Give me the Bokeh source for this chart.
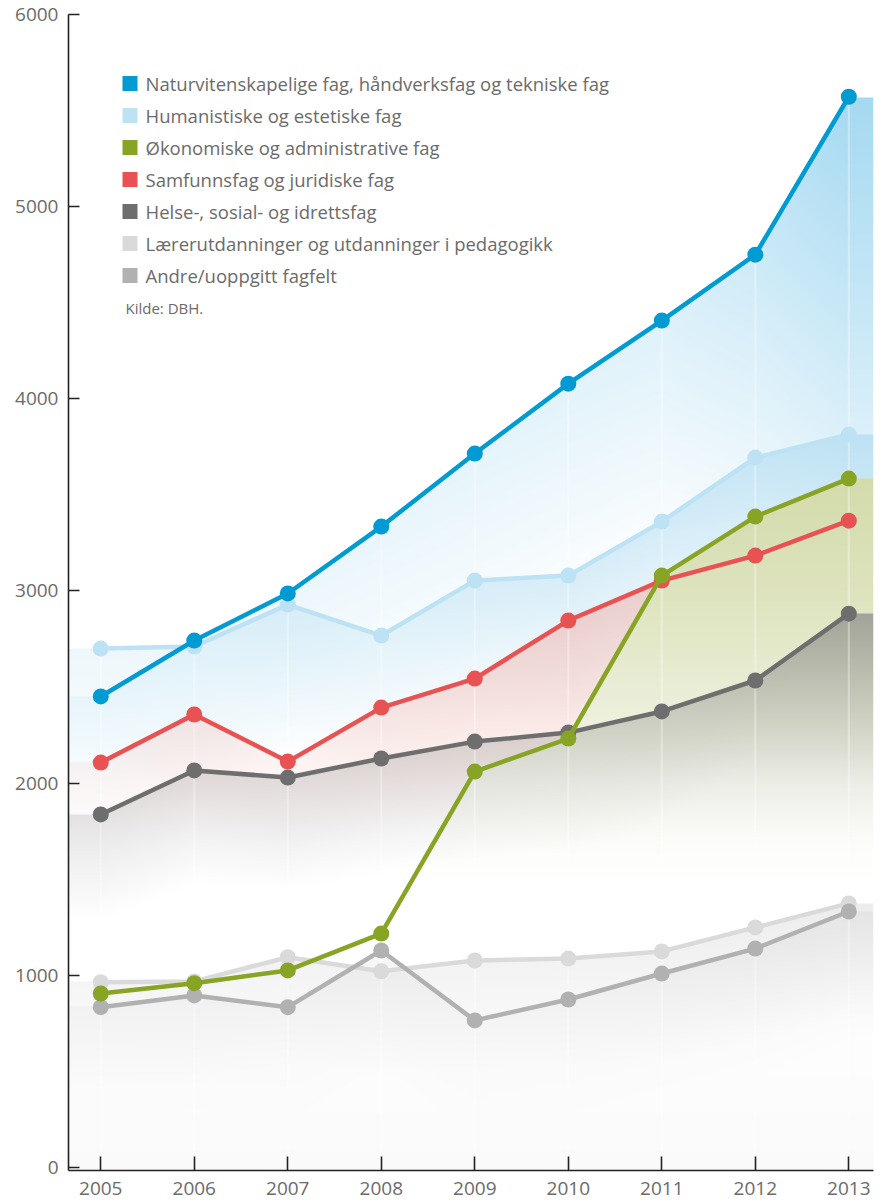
import numpy as np
from bokeh.plotting import figure
from bokeh.models import Range1d, FixedTicker, Label, BoxAnnotation
from bokeh.embed import file_html
from bokeh.resources import INLINE

years = [2005, 2006, 2007, 2008, 2009, 2010, 2011, 2012, 2013]

naturvit = [2451, 2742, 2987, 3335, 3715, 4079, 4407, 4750, 5572]
humanist = [2700, 2711, 2929, 2768, 3054, 3080, 3361, 3694, 3814]
okonomi = [905, 959, 1025, 1217, 2060, 2232, 3080, 3387, 3585]
samfunn = [2107, 2357, 2112, 2393, 2544, 2846, 3054, 3184, 3366]
helse = [1837, 2066, 2029, 2128, 2216, 2263, 2373, 2534, 2882]
laerer = [964, 968, 1094, 1021, 1077, 1087, 1124, 1249, 1374]
andre = [834, 895, 834, 1129, 765, 874, 1009, 1139, 1332]

names = [
    "Naturvitenskapelige fag, håndverksfag og tekniske fag",
    "Humanistiske og estetiske fag",
    "Økonomiske og administrative fag",
    "Samfunnsfag og juridiske fag",
    "Helse-, sosial- og idrettsfag",
    "Lærerutdanninger og utdanninger i pedagogikk",
    "Andre/uoppgitt fagfelt",
]
colors = ["#009bd2", "#bde2f4", "#88a424", "#e85253", "#6e6e6e", "#dadada", "#b1b1b1"]
series = [naturvit, humanist, okonomi, samfunn, helse, laerer, andre]

y_ticks = [0, 1000, 2000, 3000, 4000, 5000, 6000]

X_LO, X_HI = 2004.655, 2013.264
Y_LO, Y_HI = -16, 6000

W, H = 882, 1203
p = figure(width=W, height=H, output_backend="svg", toolbar_location=None,
           x_range=Range1d(X_LO, X_HI), y_range=Range1d(Y_LO, Y_HI),
           min_border_left=68, min_border_right=9, min_border_top=14, min_border_bottom=33)
p.outline_line_color = None
p.background_fill_color = "white"
p.border_fill_color = "white"
p.grid.visible = False

# ---- decorative gradient background derived from the data ----
nx, ny = 805, 1156
xs = np.linspace(X_LO, X_HI, nx)
ys = np.linspace(Y_LO, Y_HI, ny)
Y = ys[:, None] * np.ones((1, nx))
img = np.full((ny, nx, 3), 255.0)
WHITE = np.array([255.0, 255.0, 255.0])

def hex2rgb(h):
    h = h.lstrip("#")
    return np.array([int(h[i:i + 2], 16) for i in (0, 2, 4)], dtype=float)

def layer(vals, col, abs_y=(0, 1), abs_a=(0, 0), loc_v=(0, 1), loc_a=(0, 0),
          depth=((0, 1), (1000, 1000)), opaque=False):
    """alpha = max(absolute-height gradient, gradient below the local top)"""
    global img
    top = np.interp(xs, years, vals)
    a_abs = np.interp(Y, abs_y, abs_a)
    a_top = np.interp(top, loc_v, loc_a)[None, :]
    d = np.interp(top, depth[0], depth[1])[None, :]
    a_loc = a_top * np.clip(1 - (top[None, :] - Y) / d, 0, 1)
    a = np.maximum(a_abs, a_loc)
    mask = (Y <= top[None, :])
    c = hex2rgb(col)
    if opaque:
        mask = mask & (a > 0.004)
        new = WHITE[None, None, :] * (1 - a[..., None]) + c[None, None, :] * a[..., None]
        img = np.where(mask[..., None], new, img)
    else:
        a = np.where(mask, a, 0.0)
        img = img * (1 - a[..., None]) + c[None, None, :] * a[..., None]

layer(naturvit, "#8ccfee", loc_v=[2450, 3715, 4407, 5572], loc_a=[0.12, 0.22, 0.28, 0.78],
      depth=([2450, 3715, 4407, 5572], [700, 1100, 1300, 2900]))
layer(humanist, "#a0d4ee", loc_v=[2700, 3080, 3814], loc_a=[0.18, 0.38, 0.5],
      depth=([2700, 3814], [700, 1100]))
layer(samfunn, "#f3a597", loc_v=[2107, 2400, 2850], loc_a=[0.11, 0.28, 0.45],
      depth=([2100, 2400, 2850], [450, 650, 1100]))
layer(okonomi, "#c3cd8a", abs_y=[1500, 2000, 2300, 2600, 3000, 3600],
      abs_a=[0.0, 0.12, 0.28, 0.40, 0.56, 0.72], opaque=True)
layer(helse, "#8a8a8a", abs_y=[1700, 2000, 2200, 2500, 2900], abs_a=[0.0, 0.10, 0.22, 0.42, 0.72],
      loc_v=[1837, 2263, 2534, 2882], loc_a=[0.22, 0.30, 0.45, 0.72],
      depth=([1837, 2882], [550, 700]))
layer(laerer, "#a4a4a4", abs_y=[0, 600], abs_a=[0.03, 0.015],
      loc_v=(950, 1374), loc_a=(0.10, 0.20), depth=((0, 1), (650, 650)))
layer(andre, "#a8a8a8", abs_y=[0, 600], abs_a=[0.02, 0.0],
      loc_v=(800, 1332), loc_a=(0.06, 0.13), depth=((0, 1), (700, 700)))

rgba = np.empty((ny, nx), dtype=np.uint32)
view = rgba.view(dtype=np.uint8).reshape((ny, nx, 4))
view[..., :3] = np.clip(img, 0, 255).astype(np.uint8)
view[..., 3] = 255
p.image_rgba(image=[rgba], x=X_LO, y=Y_LO, dw=X_HI - X_LO, dh=Y_HI - Y_LO)

# faint vertical guide lines
p.segment(x0=years, y0=[Y_LO] * len(years), x1=years, y1=[Y_HI] * len(years),
          line_color="white", line_alpha=0.35, line_width=2)

# ---- series lines (draw order back to front) ----
order = [5, 6, 4, 1, 0, 3, 2]
for i in order:
    p.line(years, series[i], line_color=colors[i], line_width=4.5)
    p.scatter(years, series[i], size=16, fill_color=colors[i], line_color=None)

# ---- legend (manual, screen units relative to the plot frame) ----
FONT = "Open Sans"
for i, nm in enumerate(names):
    cy = 1087 - 32 * i
    p.add_layout(BoxAnnotation(left=54, right=69, bottom=cy - 7.5, top=cy + 7.5,
                               left_units="screen", right_units="screen",
                               top_units="screen", bottom_units="screen",
                               fill_color=colors[i], fill_alpha=1, line_color=None,
                               editable=False))
    p.add_layout(Label(x=77, y=cy, x_units="screen", y_units="screen", text=nm,
                       text_font=FONT, text_font_size="18.5px", text_color="#6b6b6b",
                       text_baseline="middle"))

p.add_layout(Label(x=57, y=863, x_units="screen", y_units="screen", text="Kilde: DBH.",
                   text_font=FONT, text_font_size="15px",
                   text_color="#6b6b6b", text_baseline="middle"))

# ---- axes ----
for ax in (p.xaxis[0], p.yaxis[0]):
    ax.axis_line_color = "#222222"
    ax.axis_line_width = 1.6
    ax.major_tick_line_color = "#222222"
    ax.major_tick_line_width = 1.6
    ax.minor_tick_line_color = None
    ax.major_tick_out = 0
    ax.major_label_text_font = FONT
    ax.major_label_text_font_size = "19px"
    ax.major_label_text_color = "#6b6b6b"

p.yaxis.ticker = FixedTicker(ticks=y_ticks)
p.yaxis.major_tick_in = 11
p.yaxis.major_label_standoff = 10
p.xaxis.ticker = FixedTicker(ticks=years)
p.xaxis.major_tick_in = 14
p.xaxis.major_label_standoff = 11

open("out.html", "w").write(file_html(p, INLINE))
